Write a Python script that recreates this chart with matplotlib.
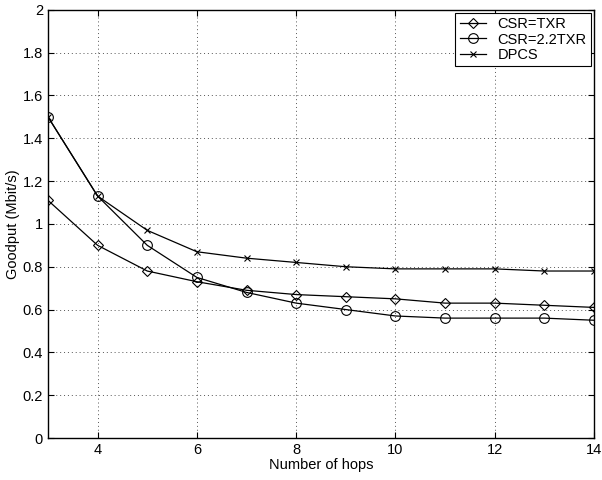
import numpy as np
import matplotlib.pyplot as plt

plt.rcParams['font.family'] = ['Liberation Sans', 'DejaVu Sans']

hops = [3, 4, 5, 6, 7, 8, 9, 10, 11, 12, 13, 14]
csr_txr = [1.11, 0.90, 0.78, 0.73, 0.69, 0.67, 0.66, 0.65, 0.63, 0.63, 0.62, 0.61]
csr_22txr = [1.50, 1.13, 0.90, 0.75, 0.68, 0.63, 0.60, 0.57, 0.56, 0.56, 0.56, 0.55]
dpcs = [1.50, 1.13, 0.97, 0.87, 0.84, 0.82, 0.80, 0.79, 0.79, 0.79, 0.78, 0.78]

fig = plt.figure(figsize=(6.02, 4.8), dpi=100)
ax = fig.add_axes([0.0797, 0.0875, 0.907, 0.892])

ax.plot(hops, csr_txr, c='k', lw=0.9, marker='D', ms=5.5, mfc='none', mec='k', mew=0.8, label='CSR=TXR')
ax.plot(hops, csr_22txr, c='k', lw=0.9, marker='o', ms=7, mfc='none', mec='k', mew=0.8, label='CSR=2.2TXR')
ax.plot(hops, dpcs, c='k', lw=0.9, marker='x', ms=4, mec='k', mew=0.8, label='DPCS')

ax.set_xlim(3, 14)
ax.set_ylim(0, 2)
ax.set_xticks([4, 6, 8, 10, 12, 14])
ax.set_yticks(np.arange(0, 2.01, 0.2))
ax.set_yticklabels(['0', '0.2', '0.4', '0.6', '0.8', '1', '1.2', '1.4', '1.6', '1.8', '2'])
ax.tick_params(direction='in', labelsize=10.5, length=4, top=True, right=True)
ax.grid(True, ls=(0, (1, 3)), c='#555555', lw=0.7)
for s in ax.spines.values():
    s.set_linewidth(1.0)

ax.set_xlabel('Number of hops', fontsize=10.5, labelpad=1)
ax.set_ylabel('Goodput (Mbit/s)', fontsize=10.5, labelpad=2)

leg = ax.legend(loc='upper right', fontsize=10.5, fancybox=False, framealpha=1,
                edgecolor='k', borderaxespad=0.2, handlelength=1.8, labelspacing=0.1,
                borderpad=0.3)
leg.get_frame().set_linewidth(0.8)

plt.savefig('out.png', dpi=100)
